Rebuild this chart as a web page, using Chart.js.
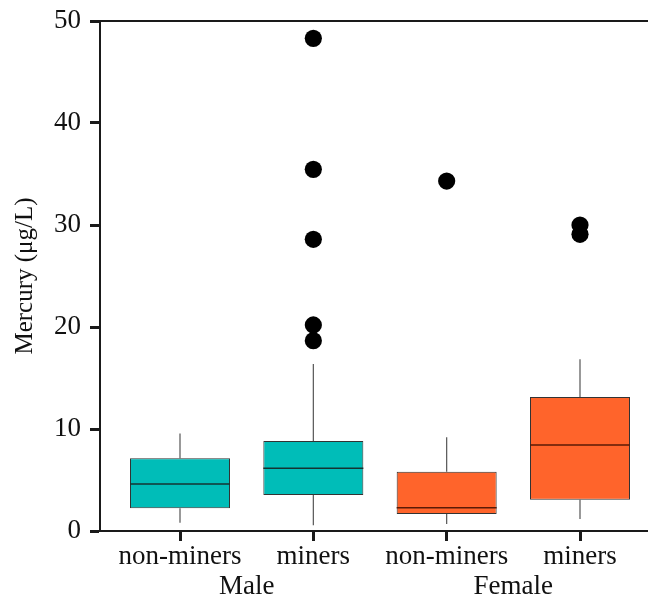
<!DOCTYPE html>
<html>
<head>
<meta charset="utf-8">
<script src="https://cdn.jsdelivr.net/npm/chart.js@4"></script>
<style>
    html, body { margin: 0; padding: 0; background: #fff; overflow: hidden; }
    #wrap { width: 648px; height: 596px; }
</style>
</head>
<body>
<div id="wrap"><canvas id="mercury-chart" width="648" height="596"></canvas></div>
<script>
// values (µg/L)
const categories = ['non-miners', 'miners', 'non-miners', 'miners'];
const groups = ['Male', 'Female'];
const boxColors = ['#00BDB8', '#00BDB8', '#FF642B', '#FF642B'];
const q1 = [2.22, 3.53, 1.67, 3.07];
const median = [4.6, 6.15, 2.29, 8.43];
const q3 = [7.13, 8.82, 5.82, 13.14];
const whiskerLow = [0.82, 0.56, 0.69, 1.18];
const whiskerHigh = [9.57, 16.37, 9.18, 16.83];
const outliers = [[], [48.3, 35.46, 28.6, 20.2, 18.66], [34.31], [30.0, 29.09]];
const yTicks = [0, 10, 20, 30, 40, 50];

const serif = 'Liberation Serif';
const dark = '#1a1a1a';

// build datasets from the arrays
const boxData = categories.map((c, i) => ({ x: i + 1, y: [q1[i], q3[i]] }));

const whiskerData = [];
categories.forEach((c, i) => {
    whiskerData.push({ x: i + 1, y: q3[i] }, { x: i + 1, y: whiskerHigh[i] }, { x: i + 1, y: null });
    whiskerData.push({ x: i + 1, y: q1[i] }, { x: i + 1, y: whiskerLow[i] }, { x: i + 1, y: null });
});

const medianData = [];
categories.forEach((c, i) => {
    medianData.push({ x: i + 1 - 0.375, y: median[i] }, { x: i + 1 + 0.375, y: median[i] }, { x: i + 1, y: null });
});

const outlierData = [];
outliers.forEach((list, i) => {
    list.forEach(v => outlierData.push({ x: i + 1, y: v }));
});

const xMin = 0.4, xMax = 4.51;

const ctx = document.getElementById('mercury-chart').getContext('2d');
new Chart(ctx, {
    type: 'bar',
    data: {
        datasets: [
            {
                type: 'line',
                data: medianData,
                borderWidth: 1.5,
                pointRadius: 0,
                spanGaps: false,
                segment: {
                    borderColor: c => c.p0.parsed.x < 2.5 ? '#143432' : '#5a1a06'
                },
                order: 0
            },
            {
                type: 'scatter',
                data: outlierData,
                pointRadius: 8.6,
                pointBackgroundColor: '#000',
                pointBorderWidth: 0,
                order: 0
            },
            {
                type: 'bar',
                data: boxData,
                backgroundColor: boxColors,
                borderColor: '#333',
                borderWidth: 1,
                borderSkipped: false,
                categoryPercentage: 1,
                barPercentage: 0.75,
                order: 2
            },
            {
                type: 'line',
                data: whiskerData,
                borderColor: '#555',
                borderWidth: 1.2,
                pointRadius: 0,
                spanGaps: false,
                order: 3
            }
        ]
    },
    options: {
        responsive: false,
        animation: false,
        layout: { autoPadding: false, padding: { top: 21, left: 0, right: 0, bottom: 0 } },
        plugins: {
            legend: { display: false },
            tooltip: { enabled: false }
        },
        scales: {
            x: {
                type: 'linear',
                position: 'bottom',
                offset: false,
                min: xMin,
                max: xMax,
                afterBuildTicks: s => { s.ticks = categories.map((c, i) => ({ value: i + 1 })); },
                afterFit: s => { s.height = 42; s.paddingRight = 0; s.paddingLeft = 0; },
                grid: { offset: false, drawOnChartArea: false, drawTicks: true, tickLength: 10, tickWidth: 3, tickColor: dark },
                border: { display: true, width: 2, color: dark },
                ticks: {
                    autoSkip: false,
                    maxRotation: 0,
                    padding: 0,
                    color: '#111',
                    font: { family: serif, size: 27 },
                    callback: v => categories[Math.round(v) - 1]
                }
            },
            groupAxis: {
                type: 'linear',
                position: 'bottom',
                offset: false,
                min: xMin,
                max: xMax,
                afterBuildTicks: s => { s.ticks = groups.map((g, i) => ({ value: i * 2 + 1.5 })); },
                afterFit: s => { s.height = 23; s.paddingRight = 0; s.paddingLeft = 0; },
                grid: { offset: false, display: false, drawTicks: false },
                border: { display: false },
                ticks: {
                    autoSkip: false,
                    maxRotation: 0,
                    padding: -2,
                    color: '#111',
                    font: { family: serif, size: 27 },
                    callback: v => groups[Math.round((v - 1.5) / 2)]
                }
            },
            topAxis: {
                type: 'linear',
                position: 'top',
                offset: false,
                min: xMin,
                max: xMax,
                afterFit: s => { s.height = 0; },
                grid: { offset: false, display: false, drawTicks: false },
                border: { display: true, width: 2, color: dark },
                ticks: { display: false }
            },
            y: {
                type: 'linear',
                min: 0,
                max: 50,
                afterBuildTicks: s => { s.ticks = yTicks.map(v => ({ value: v })); },
                afterFit: s => { s.width = 100; s.paddingTop = 0; s.paddingBottom = 0; },
                grid: { drawOnChartArea: false, drawTicks: true, tickLength: 10, tickWidth: 3, tickColor: dark },
                border: { display: true, width: 2, color: dark },
                ticks: {
                    padding: 9,
                    color: '#111',
                    font: { family: serif, size: 27 }
                },
                title: {
                    display: true,
                    text: 'Mercury (μg/L)',
                    color: '#111',
                    padding: { top: 10, bottom: 0 },
                    font: { family: serif, size: 25 }
                }
            }
        }
    }
});
</script>
</body>
</html>
